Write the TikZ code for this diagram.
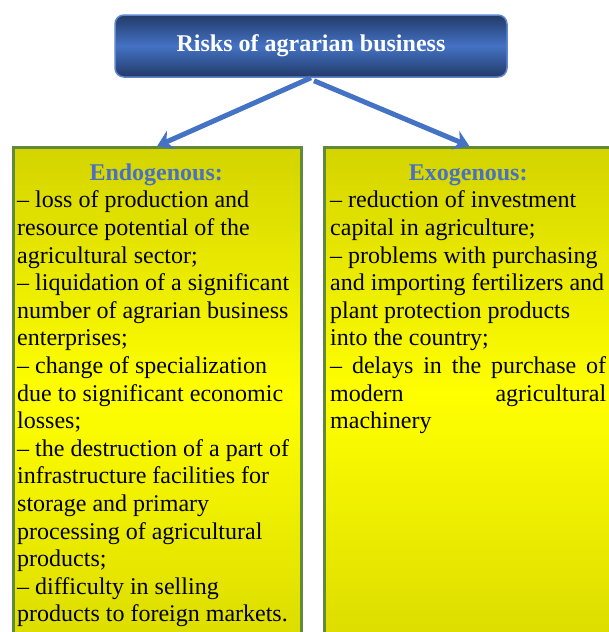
\documentclass[tikz,border=0pt]{standalone}
\usepackage{fontspec}
\setmainfont{Liberation Serif}
\usetikzlibrary{arrows.meta}
\setlength\parindent{0pt}
\hyphenpenalty=10000
\definecolor{arrowblue}{RGB}{68,114,196}
\definecolor{headblue}{RGB}{72,112,196}
\definecolor{navy}{RGB}{34,58,104}
\definecolor{boxtop}{RGB}{212,212,0}
\definecolor{boxmid}{RGB}{255,255,0}
\definecolor{boxbot}{RGB}{220,220,0}
\definecolor{boxborder}{RGB}{98,138,60}
\tikzset{
  topbox/.style={rounded corners=9pt, minimum width=392pt, minimum height=62pt,
    top color=navy, bottom color=navy, middle color=arrowblue,
    draw=arrowblue!85!white, line width=1.5pt, text=white,
    font=\bfseries\fontsize{24}{27.6}\selectfont},
  riskbox/.style={anchor=north west, minimum height=494pt, inner sep=0pt,
    top color=boxtop, bottom color=boxbot, middle color=boxmid,
    draw=boxborder, line width=2.5pt},
  risktext/.style={anchor=north west, inner sep=0pt,
    font=\fontsize{24}{27.6}\selectfont},
  riskarrow/.style={draw=arrowblue, line width=5pt,
    -{Stealth[length=15pt,width=20pt,inset=5pt]}},
}
\begin{document}
\begin{tikzpicture}[x=1pt,y=-1pt]
\useasboundingbox (0,0) rectangle (608,632);
\node[topbox] (top) at (311,46) {Risks of agrarian business};
\node[riskbox, minimum width=288pt] (endo) at (12,146) {};
\node[riskbox, minimum width=290pt] (exo) at (323,146) {};
\draw[riskarrow] ([xshift=0pt]top.south) -- (endo.north);
\draw[riskarrow] ([xshift=3pt,yshift=-3pt]top.south) -- (exo.north);
\node[risktext, text width=278pt, align=flush left] (endotext) at (17,160.68)
  {\makebox[278pt][c]{\strut\bfseries\color{headblue}Endogenous:}\\
   – loss of production and\\
   resource potential of the\\
   agricultural sector;\\
   – liquidation of a significant\\
   number of agrarian business\\
   enterprises;\\
   – change of specialization\\
   due to significant economic\\
   losses;\\
   – the destruction of a part of\\
   infrastructure facilities for\\
   storage and primary\\
   processing of agricultural\\
   products;\\
   – difficulty in selling\\
   products to foreign markets.};
\node[risktext, text width=276pt, align=justify] (exotext) at (330,160.68)
  {\makebox[276pt][c]{\strut\bfseries\color{headblue}Exogenous:}\\
   – reduction of investment\\
   capital in agriculture;\\
   – problems with purchasing\\
   and importing fertilizers and\\
   plant protection products\\
   into the country;\\
   – delays in the purchase of\linebreak
   modern agricultural\linebreak
   machinery};
\end{tikzpicture}
\end{document}
